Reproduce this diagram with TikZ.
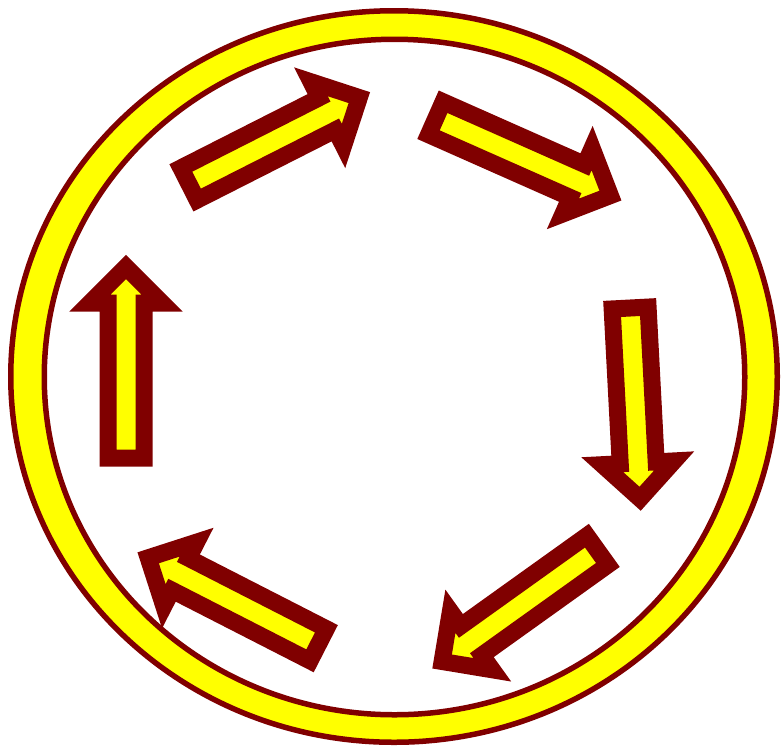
\documentclass[tikz,border=0pt]{standalone}
\usepackage{tikz}
\definecolor{ringred}{RGB}{128,0,0}
\definecolor{ringyellow}{RGB}{255,255,0}
\newcommand{\blockarrow}[3]{%
  \begin{scope}[shift={(#1,#2)},rotate=#3]
    \filldraw[fill=ringyellow,draw=ringred,line width=17pt]
      (0,-18) -- (155,-18) -- (155,-36) -- (191,0) -- (155,36) -- (155,18) -- (0,18) -- cycle;
  \end{scope}
}

\begin{document}
\begin{tikzpicture}[x=1pt,y=-1pt]
  \useasboundingbox (0,0) rectangle (781,748);
  % the ring
  \filldraw[fill=ringyellow,draw=ringred,line width=5.5pt,even odd rule]
    (394,376.5) ellipse [x radius=383.25,y radius=365.75]
    (394.5,377) ellipse [x radius=350.25,y radius=337.75];
  % six arrows, clockwise
  \blockarrow{189}{184}{26.9}
  \blockarrow{435.8}{118.2}{-23.9}
  \blockarrow{630.1}{308}{-87}
  \blockarrow{597.4}{550.3}{-144.4}
  \blockarrow{318.2}{644.8}{152.9}
  \blockarrow{126}{458}{90}
\end{tikzpicture}
\end{document}
